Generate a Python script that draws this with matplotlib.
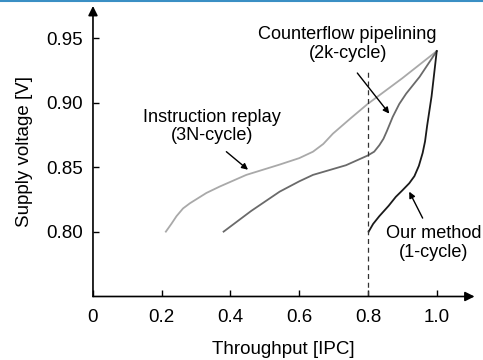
import matplotlib
matplotlib.use("Agg")
import matplotlib.pyplot as plt
from matplotlib.lines import Line2D

plt.rcParams["font.family"] = ["Liberation Sans", "DejaVu Sans"]

# === Data ===
replay_x = [0.212, 0.228, 0.243, 0.262, 0.282, 0.33, 0.369, 0.446, 0.543, 0.60, 0.64, 0.67, 0.698, 0.75, 0.799, 0.9, 1.0]
replay_y = [0.800, 0.806, 0.812, 0.818, 0.822, 0.830, 0.835, 0.844, 0.852, 0.857, 0.862, 0.868, 0.876, 0.888, 0.899, 0.919, 0.940]

counter_x = [0.38, 0.46, 0.543, 0.60, 0.64, 0.736, 0.799, 0.818, 0.833, 0.845, 0.855, 0.872, 0.891, 0.911, 0.95, 1.0]
counter_y = [0.800, 0.816, 0.831, 0.839, 0.844, 0.8515, 0.859, 0.862, 0.867, 0.872, 0.878, 0.889, 0.899, 0.907, 0.920, 0.940]

ours_x = [0.802, 0.815, 0.833, 0.860, 0.881, 0.900, 0.920, 0.935, 0.948, 0.959, 0.966, 0.972, 0.985, 1.0]
ours_y = [0.800, 0.806, 0.812, 0.820, 0.827, 0.832, 0.8375, 0.843, 0.851, 0.861, 0.870, 0.882, 0.905, 0.940]

xticks = [0, 0.2, 0.4, 0.6, 0.8, 1.0]
xticklabels = ["0", "0.2", "0.4", "0.6", "0.8", "1.0"]
yticks = [0.80, 0.85, 0.90, 0.95]
yticklabels = ["0.80", "0.85", "0.90", "0.95"]

fig = plt.figure(figsize=(4.83, 3.6), dpi=100)
ax = fig.add_axes([0.1925, 0.1764, 0.790, 0.807])
ax.set_xlim(0, 1.11)
ax.set_ylim(0.7497, 0.975)

ax.plot(replay_x, replay_y, color="#a9a9a9", lw=1.3, solid_joinstyle="round")
ax.plot(counter_x, counter_y, color="#6a6a6a", lw=1.3, solid_joinstyle="round")
ax.plot(ours_x, ours_y, color="#1a1a1a", lw=1.3, solid_joinstyle="round")

# dashed marker at 0.8 IPC
ax.plot([0.8, 0.8], [0.7497, 0.925], color="#333333", lw=0.9, ls=(0, (4, 3)))

# axes with arrowheads
for s in ax.spines.values():
    s.set_visible(False)
ax.annotate("", xy=(1.0, 0), xytext=(0, 0), xycoords="axes fraction",
            arrowprops=dict(arrowstyle="-|>", color="black", lw=1.2,
                            mutation_scale=14, shrinkA=0, shrinkB=0))
ax.annotate("", xy=(0, 1.0), xytext=(0, 0), xycoords="axes fraction",
            arrowprops=dict(arrowstyle="-|>", color="black", lw=1.2,
                            mutation_scale=14, shrinkA=0, shrinkB=0))

ax.set_xticks(xticks)
ax.set_xticklabels(xticklabels)
ax.set_yticks(yticks)
ax.set_yticklabels(yticklabels)
ax.tick_params(direction="in", length=4.5, width=1.0, labelsize=13.5, pad=7)
ax.tick_params(axis="x", pad=9)

ax.set_xlabel("Throughput [IPC]", fontsize=13.5, labelpad=11)
ax.set_ylabel("Supply voltage [V]", fontsize=13.5, labelpad=10)

# labels with arrows
ap = dict(arrowstyle="-|>", color="black", lw=1.0, mutation_scale=9, shrinkA=0, shrinkB=0)
ax.text(0.741, 0.9456, "Counterflow pipelining\n(2k-cycle)", ha="center", va="center",
        fontsize=13.1, linespacing=1.1)
ax.annotate("", xy=(0.862, 0.8915), xytext=(0.769, 0.923), arrowprops=ap)

ax.text(0.345, 0.8818, "Instruction replay\n(3N-cycle)", ha="center", va="center",
        fontsize=13.1, linespacing=1.1)
ax.annotate("", xy=(0.451, 0.848), xytext=(0.388, 0.862), arrowprops=ap)

ax.text(0.99, 0.7912, "Our method\n(1-cycle)", ha="center", va="center",
        fontsize=13.1, linespacing=1.1)
ax.annotate("", xy=(0.920, 0.831), xytext=(0.959, 0.8105), arrowprops=ap)

# thin blue rule at the top of the page
fig.add_artist(Line2D([0, 1], [0.997, 0.997], transform=fig.transFigure,
                      color="#3a8fc4", lw=1.5))

fig.savefig("out.png", dpi=100)
